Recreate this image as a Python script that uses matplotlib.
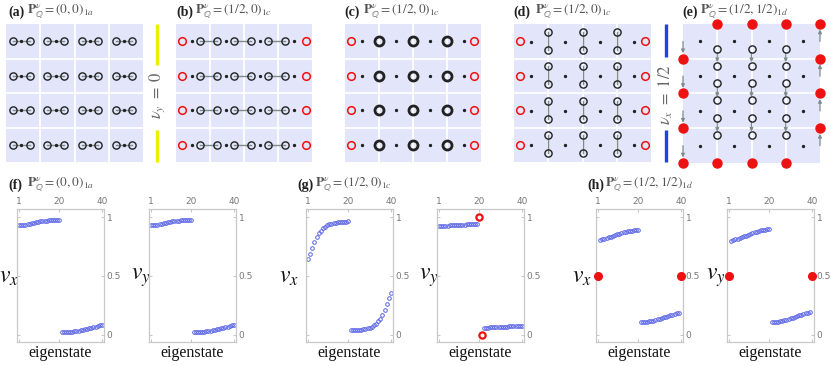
import matplotlib
matplotlib.use("Agg")
import matplotlib.pyplot as plt
import numpy as np

plt.rcParams['mathtext.fontset'] = 'stix'
plt.rcParams['font.family'] = ['Liberation Serif', 'DejaVu Serif']

W, H = 831, 366

# ---------------- data: lattice sketches (lattice units, 4x4 cells) ----------------
ROWS_Y = [0.5, 1.5, 2.5, 3.5]
A_BLACK_X = [0.21, 0.69, 1.21, 1.69, 2.21, 2.69, 3.21, 3.69]
A_DOT_X = [0.45, 1.45, 2.45, 3.45]
A_BONDS = [(0.21, 0.69), (1.21, 1.69), (2.21, 2.69), (3.21, 3.69)]

B_RED_X = [0.18, 3.82]
B_BLACK_X = [0.72, 1.2, 1.72, 2.2, 2.72, 3.2]
B_DOT_X = [0.46, 1.46, 2.46, 3.46]
B_BONDS = [(0.72, 1.2), (1.72, 2.2), (2.72, 3.2)]

C_RED_X = [0.18, 3.8]
C_THICK_X = [1.0, 2.0, 3.0]
C_DOT_X = [0.5, 1.5, 2.5, 3.5]

D_RED_X = [0.17, 3.83]
D_PAIR_X = [1.0, 2.0, 3.0]
D_PAIR_DY = [0.23, 0.75]
D_DOT_X = [0.5, 1.5, 2.5, 3.5]
D_DOT_DY = 0.52

E_RED_TOP_X = [1, 2, 3, 4]
E_RED_RIGHT_Y = [1, 2, 3]
E_RED_LEFT_Y = [1, 2, 3, 4]
E_RED_BOTTOM_X = [1, 2, 3]
E_BLACK_X = [1, 2, 3]
E_BLACK_Y = [0.72, 1.2, 1.7, 2.2, 2.7, 3.2]
E_PAIRS_Y = [(0.72, 1.2), (1.7, 2.2), (2.7, 3.2)]
E_DOT_X = [0.5, 1.5, 2.5, 3.5]
E_DOT_Y = [0.5, 1.5, 2.5, 3.5]

# ---------------- data: Wannier spectra ----------------
F_VX_UP = [0.930, 0.931, 0.933, 0.936, 0.940, 0.944, 0.948, 0.952, 0.956, 0.960,
           0.963, 0.966, 0.968, 0.970, 0.971, 0.972, 0.973, 0.974, 0.975, 0.975]
F_VX_LOW = [0.025, 0.026, 0.026, 0.027, 0.028, 0.029, 0.031, 0.033, 0.036, 0.039,
            0.043, 0.047, 0.051, 0.056, 0.061, 0.066, 0.071, 0.076, 0.080, 0.083]
F_VY_UP = [0.930, 0.931, 0.933, 0.936, 0.940, 0.944, 0.948, 0.952, 0.956, 0.960,
           0.963, 0.966, 0.968, 0.970, 0.971, 0.972, 0.973, 0.974, 0.975, 0.975]
F_VY_LOW = [0.025, 0.026, 0.026, 0.027, 0.028, 0.029, 0.031, 0.033, 0.036, 0.039,
            0.043, 0.047, 0.051, 0.056, 0.061, 0.066, 0.071, 0.076, 0.080, 0.083]

G_VX_UP = [0.646, 0.688, 0.738, 0.786, 0.827, 0.861, 0.885, 0.905, 0.919, 0.930,
           0.938, 0.944, 0.949, 0.952, 0.955, 0.957, 0.959, 0.960, 0.961, 0.962]
G_VX_LOW = [0.038, 0.039, 0.040, 0.041, 0.043, 0.045, 0.048, 0.051, 0.056, 0.062,
            0.070, 0.081, 0.095, 0.115, 0.139, 0.173, 0.214, 0.262, 0.312, 0.354]
G_VY_UP = [0.924, 0.925, 0.926, 0.927, 0.928, 0.929, 0.930, 0.931, 0.932, 0.933,
           0.934, 0.935, 0.936, 0.937, 0.938, 0.939, 0.940, 0.941, 0.942]
G_VY_LOW = [0.058, 0.060, 0.061, 0.063, 0.064, 0.065, 0.066, 0.067, 0.068, 0.069,
            0.070, 0.071, 0.072, 0.073, 0.074, 0.075, 0.076, 0.077, 0.078]
G_VY_RED_X = [20, 21]
G_VY_RED = [1.0, 0.0]

H_VX_UP = [0.808, 0.812, 0.816, 0.821, 0.827, 0.833, 0.840, 0.846, 0.852, 0.858,
           0.864, 0.869, 0.874, 0.878, 0.882, 0.885, 0.888, 0.890, 0.892]
H_VX_LOW = [0.106, 0.107, 0.109, 0.111, 0.114, 0.117, 0.121, 0.126, 0.131, 0.136,
            0.142, 0.148, 0.154, 0.160, 0.166, 0.172, 0.178, 0.183, 0.188]
H_VY_UP = [0.800, 0.805, 0.810, 0.816, 0.822, 0.829, 0.836, 0.843, 0.850, 0.857,
           0.864, 0.870, 0.876, 0.881, 0.886, 0.890, 0.893, 0.896, 0.898]
H_VY_LOW = [0.106, 0.107, 0.109, 0.112, 0.115, 0.119, 0.124, 0.129, 0.135, 0.141,
            0.147, 0.153, 0.159, 0.165, 0.171, 0.177, 0.183, 0.188, 0.193]
H_RED_X = [1, 40]
H_RED = [0.5, 0.5]

X_TICKS = [1, 20, 40]
X_TICKLABELS = ['1', '20', '40']
Y_TICKS = [0, 0.5, 1]
Y_TICKLABELS = ['0', '0.5', '1']

# ---------------- style ----------------
BG = '#e3e6fb'
BLK = '#222222'
RED = '#ee1111'
GRAYLINE = '#7f8c8c'
BLUE = '#5a64e6'
GRAYTXT = '#555555'

fig = plt.figure(figsize=(W / 100, H / 100), dpi=100)


def px_axes(x0, y0, x1, y1):
    return fig.add_axes([x0 / W, 1 - y1 / H, (x1 - x0) / W, (y1 - y0) / H])


def lattice_axes(x0, y0, x1, y1):
    ax = px_axes(x0, y0, x1, y1)
    ax.set_xlim(0, 4)
    ax.set_ylim(4, 0)
    ax.set_facecolor(BG)
    for s in ax.spines.values():
        s.set_visible(False)
    ax.set_xticks([])
    ax.set_yticks([])
    for k in [1, 2, 3]:
        ax.axvline(k, color='white', lw=1.3, zorder=1)
        ax.axhline(k, color='white', lw=1.3, zorder=1)
    return ax


def open_c(ax, xs, ys, color=BLK, ms=5.2, mew=1.0, z=4):
    ax.plot(xs, ys, 'o', ms=ms, mfc='none', mec=color, mew=mew, ls='none',
            zorder=z, clip_on=False)


def dots(ax, xs, ys):
    ax.plot(xs, ys, 'o', ms=1.4, color=BLK, ls='none', zorder=3)


def arrow(ax, x0, y0, x1, y1):
    ax.annotate('', xy=(x1, y1), xytext=(x0, y0),
                arrowprops=dict(arrowstyle='-|>', color=GRAYLINE, lw=0.9,
                                mutation_scale=5, shrinkA=0, shrinkB=0),
                zorder=3, annotation_clip=False)


# (a)
ax = lattice_axes(6, 24, 143, 162)
for y in ROWS_Y:
    for (x0, x1) in A_BONDS:
        ax.plot([x0, x1], [y, y], color=GRAYLINE, lw=1.0, zorder=2)
    open_c(ax, A_BLACK_X, [y] * len(A_BLACK_X))
    dots(ax, A_DOT_X, [y] * len(A_DOT_X))

# (b)
ax = lattice_axes(176, 24, 312, 162)
for y in ROWS_Y:
    for (x0, x1) in B_BONDS:
        ax.plot([x0, x1], [y, y], color=GRAYLINE, lw=1.0, zorder=2)
    open_c(ax, B_BLACK_X, [y] * len(B_BLACK_X))
    open_c(ax, B_RED_X, [y] * len(B_RED_X), color=RED, ms=5.5, mew=1.1)
    dots(ax, B_DOT_X, [y] * len(B_DOT_X))

# (c)
ax = lattice_axes(345, 24, 481, 162)
for y in ROWS_Y:
    open_c(ax, C_THICK_X, [y] * len(C_THICK_X), ms=6.5, mew=2.0)
    open_c(ax, C_RED_X, [y] * len(C_RED_X), color=RED, ms=5.5, mew=1.1)
    dots(ax, C_DOT_X, [y] * len(C_DOT_X))

# (d)
ax = lattice_axes(514, 24, 651, 162)
for r in [0, 1, 2, 3]:
    for x in D_PAIR_X:
        ya, yb = r + D_PAIR_DY[0], r + D_PAIR_DY[1]
        ax.plot([x, x], [ya, yb], color=GRAYLINE, lw=1.0, zorder=2)
        open_c(ax, [x, x], [ya, yb])
    open_c(ax, D_RED_X, [r + 0.5] * len(D_RED_X), color=RED, ms=5.5, mew=1.1)
    dots(ax, D_DOT_X, [r + D_DOT_DY] * len(D_DOT_X))

# (e)
ax = lattice_axes(683, 24, 820, 163)
for x in E_BLACK_X:
    for (ya, yb) in E_PAIRS_Y:
        arrow(ax, x, ya + 0.1, x, yb - 0.1)
    open_c(ax, [x] * len(E_BLACK_Y), E_BLACK_Y)
for y in E_DOT_Y:
    dots(ax, E_DOT_X, [y] * len(E_DOT_X))
for y in E_RED_LEFT_Y:
    arrow(ax, 0, y - 0.5, 0, y - 0.16)
for y in [0] + E_RED_RIGHT_Y:
    arrow(ax, 4, y + 0.5, 4, y + 0.16)
red_x = E_RED_TOP_X + [4] * len(E_RED_RIGHT_Y) + [0] * len(E_RED_LEFT_Y) + E_RED_BOTTOM_X
red_y = [0] * len(E_RED_TOP_X) + E_RED_RIGHT_Y + E_RED_LEFT_Y + [4] * len(E_RED_BOTTOM_X)
ax.plot(red_x, red_y, 'o', ms=6.5, color=RED, ls='none', zorder=5, clip_on=False)

# overlay for bars/labels in pixel coordinates
ov = fig.add_axes([0, 0, 1, 1], zorder=-1)
ov.set_xlim(0, W)
ov.set_ylim(H, 0)
ov.axis('off')
ov.plot([157, 157], [24, 65], color='#eeee00', lw=2.4, solid_capstyle='butt')
ov.plot([157, 157], [130, 162], color='#eeee00', lw=2.4, solid_capstyle='butt')
ov.plot([666, 666], [24, 57], color='#2040e8', lw=2.4, solid_capstyle='butt')
ov.plot([666, 666], [130, 162], color='#2040e8', lw=2.4, solid_capstyle='butt')
ov.text(157, 95, r'$\nu_y\ =\ 0$', rotation=90, ha='center', va='center',
        fontsize=12, color='#666666')
ov.text(666, 95, r'$\nu_x\ =\ 1/2$', rotation=90, ha='center', va='center',
        fontsize=12, color='#666666')

# titles
TITLES = [
    ('(a)', 8, 27, 12, r'$\mathbf{P}^{\nu}_{\mathbb{Q}}=(0,0)_{1a}$'),
    ('(b)', 176, 195, 12, r'$\mathbf{P}^{\nu}_{\mathbb{Q}}=(1/2,0)_{1c}$'),
    ('(c)', 344, 363, 12, r'$\mathbf{P}^{\nu}_{\mathbb{Q}}=(1/2,0)_{1c}$'),
    ('(d)', 513, 535, 12, r'$\mathbf{P}^{\nu}_{\mathbb{Q}}=(1/2,0)_{1c}$'),
    ('(e)', 682, 700, 12, r'$\mathbf{P}^{\nu}_{\mathbb{Q}}=(1/2,1/2)_{1d}$'),
    ('(f)', 8, 27, 185, r'$\mathbf{P}^{\nu}_{\mathbb{Q}}=(0,0)_{1a}$'),
    ('(g)', 297, 315, 185, r'$\mathbf{P}^{\nu}_{\mathbb{Q}}=(1/2,0)_{1c}$'),
    ('(h)', 587, 605, 185, r'$\mathbf{P}^{\nu}_{\mathbb{Q}}=(1/2,1/2)_{1d}$'),
]
for lab, xl, xm, y, m in TITLES:
    ov.text(xl, y, lab, ha='left', va='center', fontsize=10, fontweight='bold',
            color='#222222')
    ov.text(xm, y, m, ha='left', va='center', fontsize=9.5, color=GRAYTXT)


# spectra
def spec_axes(x0, ylab, ylab_dx):
    ax = px_axes(x0, 209, x0 + 87, 342)
    ax.set_xlim(0, 41)
    ax.set_ylim(-0.06, 1.068)
    for s in ax.spines.values():
        s.set_color('#c8c8c8')
        s.set_linewidth(0.9)
    ax.set_xticks(X_TICKS)
    ax.set_xticklabels(X_TICKLABELS)
    ax.set_yticks(Y_TICKS)
    ax.set_yticklabels(Y_TICKLABELS)
    ax.tick_params(axis='both', direction='in', length=2.5, width=0.6, color='#bbbbbb',
                   labelsize=6.5, labelcolor='#777777', top=True, bottom=True,
                   left=True, right=True, labeltop=True, labelbottom=False,
                   labelleft=False, labelright=True, pad=2)
    for t in ax.get_xticklabels() + ax.get_yticklabels():
        t.set_family(['DejaVu Sans'])
    ov.text(x0 + ylab_dx, 278, ylab, ha='center', va='center', fontsize=17,
            color='#111111')
    ov.text(x0 + 43.5, 353, 'eigenstate', ha='center', va='center', fontsize=11.5,
            color='#111111')
    return ax


def blue(ax, xs, ys):
    ax.plot(xs, ys, 'o', ms=2.6, mfc='none', mec=BLUE, mew=0.7, ls='none')


idx_up20 = list(range(1, 21))
idx_low20 = list(range(21, 41))

ax = spec_axes(17, r'$v_x$', -8)
blue(ax, idx_up20, F_VX_UP)
blue(ax, idx_low20, F_VX_LOW)

ax = spec_axes(149, r'$v_y$', -8)
blue(ax, idx_up20, F_VY_UP)
blue(ax, idx_low20, F_VY_LOW)

ax = spec_axes(306, r'$v_x$', -17)
blue(ax, idx_up20, G_VX_UP)
blue(ax, idx_low20, G_VX_LOW)

ax = spec_axes(437, r'$v_y$', -8)
blue(ax, list(range(1, 20)), G_VY_UP)
blue(ax, list(range(22, 41)), G_VY_LOW)
ax.plot(G_VY_RED_X, G_VY_RED, 'o', ms=4.5, mfc='none', mec=RED, mew=1.6, ls='none')

ax = spec_axes(596, r'$v_x$', -14)
blue(ax, list(range(2, 21)), H_VX_UP)
blue(ax, list(range(21, 40)), H_VX_LOW)
ax.plot(H_RED_X, H_RED, 'o', ms=5.5, color=RED, ls='none', clip_on=False, zorder=5)

ax = spec_axes(727, r'$v_y$', -11)
blue(ax, list(range(2, 21)), H_VY_UP)
blue(ax, list(range(21, 40)), H_VY_LOW)
ax.plot(H_RED_X, H_RED, 'o', ms=5.5, color=RED, ls='none', clip_on=False, zorder=5)

fig.savefig('out.png', dpi=100)
